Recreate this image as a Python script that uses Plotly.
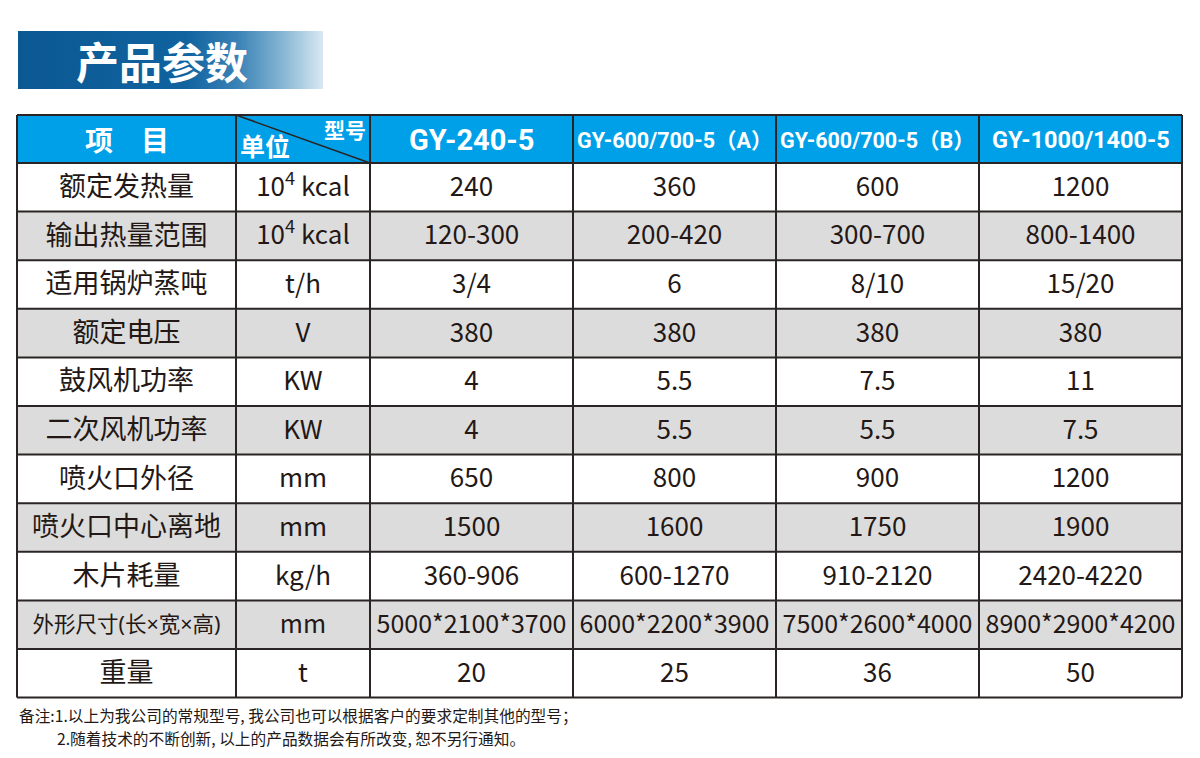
import plotly.graph_objects as go

# ---------------- data ----------------
title = "产品参数"
items = ["额定发热量", "输出热量范围", "适用锅炉蒸吨", "额定电压", "鼓风机功率", "二次风机功率",
         "喷火口外径", "喷火口中心离地", "木片耗量", "外形尺寸(长×宽×高)", "重量"]
units = ["10<sup>4</sup> kcal", "10<sup>4</sup> kcal", "t/h", "V", "KW", "KW",
         "mm", "mm", "kg/h", "mm", "t"]
models = ["GY-240-5", "GY-600/700-5（A）", "GY-600/700-5（B）", "GY-1000/1400-5"]
gy240 = ["240", "120-300", "3/4", "380", "4", "4", "650", "1500", "360-906", "5000*2100*3700", "20"]
gy600a = ["360", "200-420", "6", "380", "5.5", "5.5", "800", "1600", "600-1270", "6000*2200*3900", "25"]
gy600b = ["600", "300-700", "8/10", "380", "7.5", "5.5", "900", "1750", "910-2120", "7500*2600*4000", "36"]
gy1000 = ["1200", "800-1400", "15/20", "380", "11", "7.5", "1200", "1900", "2420-4220", "8900*2900*4200", "50"]
notes = ["备注:1.以上为我公司的常规型号, 我公司也可以根据客户的要求定制其他的型号；",
         "2.随着技术的不断创新, 以上的产品数据会有所改变, 恕不另行通知。"]

# ---------------- layout constants ----------------
W, H = 1200, 758
col_edges = [17, 236, 370, 573, 776, 979, 1182]
top = 115
head_h = 48
row_h = 48.6
n_rows = len(items)
row_edges = [top, top + head_h] + [top + head_h + row_h * (i + 1) for i in range(n_rows)]
SMALL_ROW = 9  # the dimensions row uses a smaller font

HEAD_BG = "#00a0e9"
GRAY = "#dcdcdc"
LINE = "#2b2424"
TXT = "#231815"
CJK = "Noto Sans CJK SC"
HEADF = "Roboto, Noto Sans CJK SC"

fig = go.Figure()
shapes = []

# title banner with gradient
bx0, bx1, by0, by1 = 18, 323, 31, 89
fig.add_trace(go.Scatter(
    x=[bx0, bx1, bx1, bx0, bx0], y=[by0, by0, by1, by1, by0],
    mode="lines", line=dict(width=0), fill="toself",
    fillgradient=dict(type="horizontal",
                      colorscale=[[0, "#0b5893"], [0.55, "#10639f"], [0.72, "#3a82b6"],
                                  [0.88, "#8dbad6"], [1, "#d9e9f2"]]),
    hoverinfo="skip", showlegend=False))
fig.add_annotation(x=162, y=60, text="<b>" + title + "</b>", showarrow=False,
                   font=dict(family=CJK, size=43, color="white"), xanchor="center", yanchor="middle")

# header background
shapes.append(dict(type="rect", x0=col_edges[0], x1=col_edges[-1], y0=row_edges[0], y1=row_edges[1],
                   fillcolor=HEAD_BG, line=dict(width=0), layer="below"))
# gray alternating rows
for i in range(n_rows):
    if i % 2 == 1:
        shapes.append(dict(type="rect", x0=col_edges[0], x1=col_edges[-1],
                           y0=row_edges[i + 1], y1=row_edges[i + 2],
                           fillcolor=GRAY, line=dict(width=0), layer="below"))
# grid lines
for x in col_edges:
    shapes.append(dict(type="line", x0=x, x1=x, y0=row_edges[0], y1=row_edges[-1],
                       line=dict(color=LINE, width=2)))
for y in row_edges:
    shapes.append(dict(type="line", x0=col_edges[0], x1=col_edges[-1], y0=y, y1=y,
                       line=dict(color=LINE, width=2)))
# diagonal
shapes.append(dict(type="line", x0=col_edges[1], y0=row_edges[0], x1=col_edges[2], y1=row_edges[1],
                   line=dict(color=LINE, width=1.5)))

# header texts
hy = (row_edges[0] + row_edges[1]) / 2
fig.add_annotation(x=(col_edges[0] + col_edges[1]) / 2, y=hy, text="<b>项　目</b>", showarrow=False,
                   font=dict(family=CJK, size=28, color="white"))
fig.add_annotation(x=col_edges[1] + 2, y=row_edges[1] + 2, text="<b>单位</b>", showarrow=False,
                   xanchor="left", yanchor="bottom", font=dict(family=CJK, size=25, color="white"))
fig.add_annotation(x=col_edges[2] - 2, y=row_edges[0] - 3, text="<b>型号</b>", showarrow=False,
                   xanchor="right", yanchor="top", font=dict(family=CJK, size=21, color="white"))
model_sizes = [29, 21.5, 21.5, 23.5]
for j, m in enumerate(models):
    fig.add_annotation(x=(col_edges[j + 2] + col_edges[j + 3]) / 2, y=hy + 1, text="<b>" + m + "</b>",
                       showarrow=False, font=dict(family=HEADF, size=model_sizes[j], color="white"))

# body text
row_centers = [(row_edges[i + 1] + row_edges[i + 2]) / 2 + 2 for i in range(n_rows)]
columns = [items, units, gy240, gy600a, gy600b, gy1000]
for c, vals in enumerate(columns):
    cx = (col_edges[c] + col_edges[c + 1]) / 2
    fam = "Noto Sans, Noto Sans CJK SC" if c == 0 else CJK
    big = 27 if c == 0 else 26
    small = 21.5 if c == 0 else 25
    idx_big = [r for r in range(n_rows) if r != SMALL_ROW]
    fig.add_trace(go.Scatter(
        x=[cx] * len(idx_big), y=[row_centers[r] for r in idx_big], mode="text",
        text=[vals[r] for r in idx_big], textposition="middle center",
        textfont=dict(family=fam, size=big, color=TXT),
        hoverinfo="skip", showlegend=False))
    fig.add_trace(go.Scatter(
        x=[cx], y=[row_centers[SMALL_ROW]], mode="text",
        text=[vals[SMALL_ROW]], textposition="middle center",
        textfont=dict(family=fam, size=small, color=TXT),
        hoverinfo="skip", showlegend=False))

# notes
fig.add_annotation(x=17, y=715, text=notes[0], showarrow=False, xanchor="left", yanchor="middle",
                   font=dict(family=CJK, size=15.7, color=TXT))
fig.add_annotation(x=55, y=738, text=notes[1], showarrow=False, xanchor="left", yanchor="middle",
                   font=dict(family=CJK, size=15.7, color=TXT))

fig.update_layout(
    width=W, height=H, margin=dict(l=0, r=0, t=0, b=0),
    paper_bgcolor="white", plot_bgcolor="white",
    xaxis=dict(range=[0, W], visible=False, fixedrange=True),
    yaxis=dict(range=[H, 0], visible=False, fixedrange=True),
    shapes=shapes, showlegend=False,
)
fig.write_html("out.html", config={"displayModeBar": False},
               post_script="document.body.style.margin='0';document.body.style.overflow='hidden';")
